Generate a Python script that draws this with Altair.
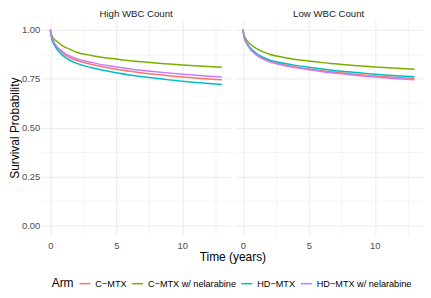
import altair as alt
import pandas as pd

times = [0, 0.1, 0.25, 0.5, 1, 1.5, 2, 3, 4, 5, 6, 7, 8, 9, 10, 11, 12, 13]
arms = ["C\u2212MTX", "C\u2212MTX w/ nelarabine", "HD\u2212MTX", "HD\u2212MTX w/ nelarabine"]
panels = ["High WBC Count", "Low WBC Count"]
colors = ["#F8766D", "#7CAE00", "#00BFC4", "#C77CFF"]

high_cmtx = [1, 0.96, 0.935, 0.91, 0.877, 0.857, 0.843, 0.825, 0.81, 0.798, 0.788, 0.779, 0.772, 0.765, 0.759, 0.753, 0.748, 0.744]
high_cmtx_nel = [1, 0.975, 0.955, 0.94, 0.915, 0.9, 0.885, 0.87, 0.858, 0.85, 0.842, 0.836, 0.83, 0.825, 0.82, 0.816, 0.812, 0.808]
high_hdmtx = [1, 0.955, 0.928, 0.9, 0.865, 0.843, 0.828, 0.808, 0.793, 0.78, 0.769, 0.76, 0.752, 0.744, 0.737, 0.731, 0.725, 0.72]
high_hdmtx_nel = [1, 0.965, 0.94, 0.915, 0.885, 0.865, 0.852, 0.835, 0.82, 0.81, 0.8, 0.792, 0.785, 0.779, 0.773, 0.768, 0.763, 0.759]

low_cmtx = [1, 0.96, 0.935, 0.908, 0.875, 0.855, 0.84, 0.823, 0.81, 0.8, 0.791, 0.783, 0.776, 0.77, 0.764, 0.759, 0.755, 0.751]
low_cmtx_nel = [1, 0.97, 0.95, 0.93, 0.905, 0.888, 0.875, 0.86, 0.848, 0.84, 0.832, 0.826, 0.82, 0.815, 0.81, 0.806, 0.802, 0.798]
low_hdmtx = [1, 0.962, 0.938, 0.912, 0.88, 0.86, 0.846, 0.83, 0.818, 0.808, 0.799, 0.791, 0.785, 0.779, 0.773, 0.768, 0.764, 0.76]
low_hdmtx_nel = [1, 0.958, 0.932, 0.905, 0.872, 0.851, 0.836, 0.819, 0.806, 0.796, 0.786, 0.778, 0.771, 0.764, 0.758, 0.753, 0.748, 0.744]

series = {
    panels[0]: [high_cmtx, high_cmtx_nel, high_hdmtx, high_hdmtx_nel],
    panels[1]: [low_cmtx, low_cmtx_nel, low_hdmtx, low_hdmtx_nel],
}

rows = []
for p in panels:
    for arm, vals in zip(arms, series[p]):
        for t, v in zip(times, vals):
            rows.append({"panel": p, "Arm": arm, "time": t, "surv": v})
df = pd.DataFrame(rows)

FONT = "Liberation Sans"
W, H, GAP = 190, 217, 4
x_vals = [0, 2.5, 5, 7.5, 10, 12.5]
y_vals = [0, 0.125, 0.25, 0.375, 0.5, 0.625, 0.75, 0.875, 1.0]

x_grid = {"condition": {"test": "datum.value % 5 === 0", "value": 1}, "value": 0.5}
y_grid = {"condition": {"test": "(datum.value * 4) % 1 === 0", "value": 1}, "value": 0.5}
x_scale = alt.Scale(domain=[-0.65, 13.65], nice=False, zero=False)
y_scale = alt.Scale(domain=[-0.05, 1.05], nice=False, zero=False)
color = alt.Color("Arm:N", scale=alt.Scale(domain=arms, range=colors),
                  legend=alt.Legend(orient="none", legendX=10, legendY=259,
                                    direction="horizontal", titleOrient="left",
                                    symbolType="stroke", symbolStrokeWidth=1.5, symbolSize=121,
                                    labelFontSize=9.2, titleFontSize=12, titleFontWeight="normal",
                                    titlePadding=5, columnPadding=2, labelOffset=4,
                                    padding=0))


def panel(name, first):
    if first:
        xa = alt.Axis(values=x_vals,
                      labelExpr="datum.value % 5 === 0 ? datum.label : ''",
                      gridWidth=x_grid, title="Time (years)", titlePadding=2,
                      labelPadding=5, titleX=W + GAP / 2, titleAlign="center")
    else:
        xa = alt.Axis(values=x_vals,
                      labelExpr="datum.value % 5 === 0 ? datum.label : ''",
                      gridWidth=x_grid, title=None, labelPadding=5)
    ya = alt.Axis(values=y_vals, format=".2f",
                  labelExpr="(datum.value * 4) % 1 === 0 ? datum.label : ''",
                  gridWidth=y_grid,
                  labels=first, title="Survival Probability" if first else None,
                  titlePadding=0, labelPadding=2)
    return alt.Chart(df[df.panel == name]).mark_line(strokeWidth=1.5, interpolate="monotone").encode(
        x=alt.X("time:Q", scale=x_scale, axis=xa),
        y=alt.Y("surv:Q", scale=y_scale, axis=ya),
        color=color,
    ).properties(width=W, height=H,
                 title=alt.TitleParams(name, fontSize=9.7, fontWeight="normal",
                                       color="#1A1A1A", offset=1, anchor="middle"))


chart = alt.hconcat(panel(panels[0], True), panel(panels[1], False),
                    spacing=GAP, bounds="flush").configure(
    font=FONT,
    background="white",
    padding=0,
).configure_view(
    stroke=None,
).configure_axis(
    domain=False, ticks=False,
    gridColor="#EBEBEB",
    labelColor="#4D4D4D", labelFontSize=9.5, labelPadding=3,
    titleColor="#000000", titleFontSize=12, titleFontWeight="normal",
).configure_legend(
    labelColor="#000000", titleColor="#000000",
)

chart.save("out.html", embed_options={"renderer": "svg", "actions": False})
